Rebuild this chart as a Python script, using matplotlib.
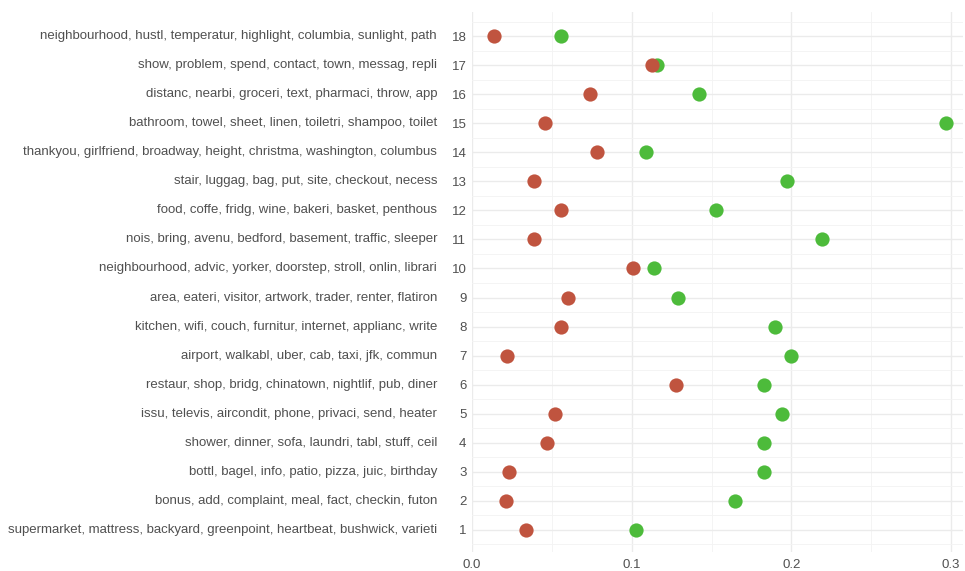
import matplotlib.pyplot as plt
from matplotlib.ticker import MultipleLocator
import matplotlib.transforms as mtransforms

# topic index, top terms, and two proportions per topic
topic_ids = list(range(1, 19))
topic_terms = [
    "supermarket, mattress, backyard, greenpoint, heartbeat, bushwick, varieti",
    "bonus, add, complaint, meal, fact, checkin, futon",
    "bottl, bagel, info, patio, pizza, juic, birthday",
    "shower, dinner, sofa, laundri, tabl, stuff, ceil",
    "issu, televis, aircondit, phone, privaci, send, heater",
    "restaur, shop, bridg, chinatown, nightlif, pub, diner",
    "airport, walkabl, uber, cab, taxi, jfk, commun",
    "kitchen, wifi, couch, furnitur, internet, applianc, write",
    "area, eateri, visitor, artwork, trader, renter, flatiron",
    "neighbourhood, advic, yorker, doorstep, stroll, onlin, librari",
    "nois, bring, avenu, bedford, basement, traffic, sleeper",
    "food, coffe, fridg, wine, bakeri, basket, penthous",
    "stair, luggag, bag, put, site, checkout, necess",
    "thankyou, girlfriend, broadway, height, christma, washington, columbus",
    "bathroom, towel, sheet, linen, toiletri, shampoo, toilet",
    "distanc, nearbi, groceri, text, pharmaci, throw, app",
    "show, problem, spend, contact, town, messag, repli",
    "neighbourhood, hustl, temperatur, highlight, columbia, sunlight, path",
]
red_vals = [0.034, 0.021, 0.023, 0.047, 0.052, 0.128, 0.022, 0.056, 0.060,
            0.101, 0.039, 0.056, 0.039, 0.078, 0.046, 0.074, 0.113, 0.014]
green_vals = [0.103, 0.165, 0.183, 0.183, 0.194, 0.183, 0.200, 0.190, 0.129,
              0.114, 0.219, 0.153, 0.197, 0.109, 0.297, 0.142, 0.116, 0.056]

red = '#c0543f'
green = '#4dbb3b'
text_grey = '#505050'

plt.rcParams['font.family'] = ['Liberation Sans', 'DejaVu Sans']

fig = plt.figure(figsize=(9.65, 5.71), dpi=100)
ax = fig.add_axes([472 / 965, 1 - 552 / 571, (963 - 472) / 965, (552 - 12) / 571])

ax.scatter(green_vals, topic_ids, s=105, color=green, zorder=3, linewidths=0)
ax.scatter(red_vals, topic_ids, s=105, color=red, zorder=4, linewidths=0)

ax.set_xlim(0, 0.3075)
ax.set_ylim(0.24, 18.83)

ax.xaxis.set_minor_locator(MultipleLocator(0.05))
ax.set_yticks(topic_ids)
ax.set_yticklabels([str(i) for i in topic_ids])
ax.set_yticks([i + 0.5 for i in range(0, 19)], minor=True)
ax.set_xticks([0.0, 0.1, 0.2, 0.3])
ax.set_xticklabels(['0.0', '0.1', '0.2', '0.3'])

ax.grid(True, which='major', color='#ebebeb', linewidth=1.0, zorder=0)
ax.grid(True, which='minor', color='#f3f3f3', linewidth=0.6, zorder=0)
ax.set_axisbelow(True)
for sp in ax.spines.values():
    sp.set_visible(False)
ax.tick_params(axis='both', which='both', length=0)
ax.tick_params(axis='y', pad=4, labelsize=9.5, labelcolor=text_grey)
ax.tick_params(axis='x', pad=5, labelsize=9.5, labelcolor=text_grey)

# term labels to the left of the topic numbers
trans = mtransforms.blended_transform_factory(fig.transFigure, ax.transData)
for tid, terms in zip(topic_ids, topic_terms):
    ax.text(437 / 965, tid, terms, transform=trans, ha='right', va='center',
            fontsize=9.5, color=text_grey)

fig.savefig('out.png', dpi=100)
